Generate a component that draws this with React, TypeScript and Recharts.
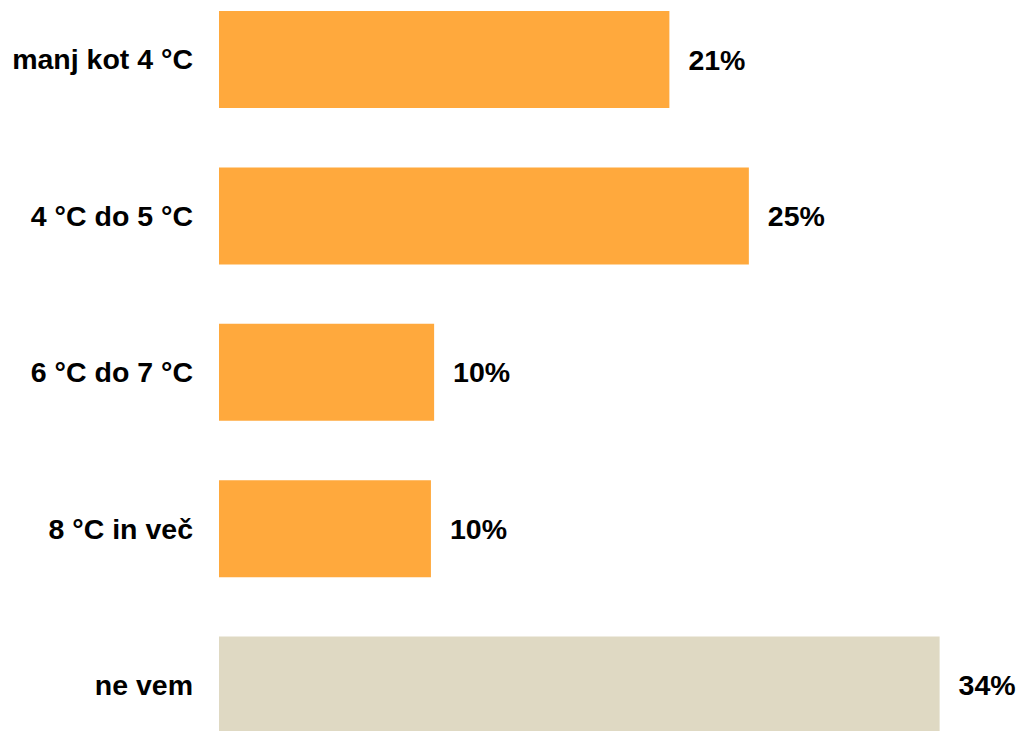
import React from "react";
import { BarChart, Bar, XAxis, YAxis, Cell, LabelList } from "recharts";

const categories = ["manj kot 4 °C", "4 °C do 5 °C", "6 °C do 7 °C", "8 °C in več", "ne vem"];
const values = [21.25, 25.0, 10.15, 10.0, 34.0];
const colors = ["#FFA93D", "#FFA93D", "#FFA93D", "#FFA93D", "#DFD9C3"];

const data = categories.map((c, i) => ({ name: c, value: values[i] }));

const FONT = "'Liberation Sans', Arial, sans-serif";

export default function App() {
  return (
    <div style={{ position: "absolute", top: -19, left: 0, width: 1017, height: 782 }}>
      <BarChart
        width={1017}
        height={782}
        data={data}
        layout="vertical"
        margin={{ top: 0, right: 35, bottom: 0, left: 0 }}
        barSize={97}
      >
        <XAxis type="number" domain={[0, 36]} hide />
        <YAxis
          type="category"
          dataKey="name"
          width={219}
          axisLine={false}
          tickLine={false}
          tickSize={0}
          tickMargin={26}
          tick={{ fill: "#000", fontSize: 28.5, fontWeight: 700, fontFamily: FONT }}
        />
        <Bar dataKey="value" isAnimationActive={false}>
          {data.map((d, i) => (
            <Cell key={d.name} fill={colors[i]} />
          ))}
          <LabelList
            dataKey="value"
            position="right"
            offset={19}
            formatter={(v: number) => `${Math.round(v)}%`}
            style={{ fill: "#000", fontSize: 28.5, fontWeight: 700, fontFamily: FONT }}
          />
        </Bar>
      </BarChart>
    </div>
  );
}
